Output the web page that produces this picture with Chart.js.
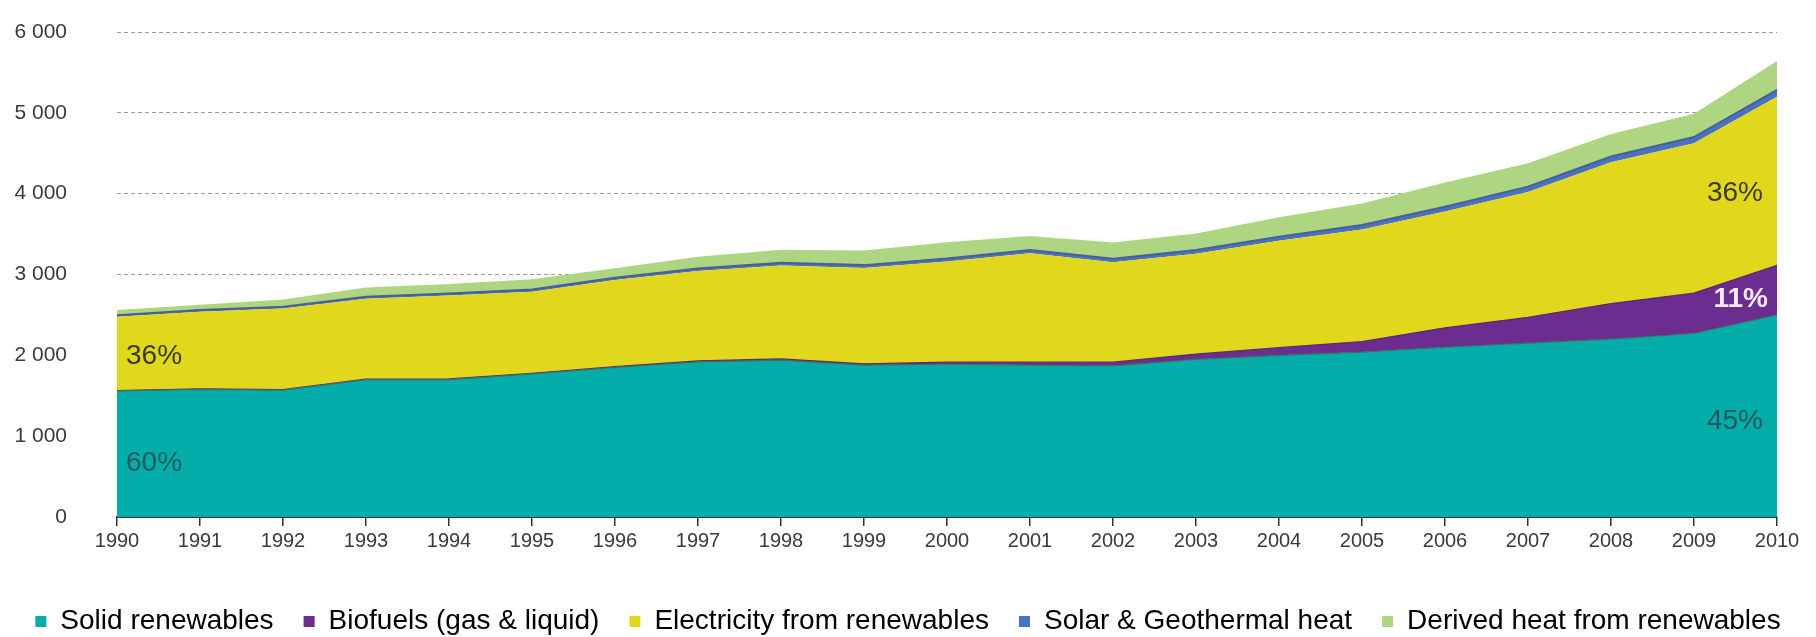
<!DOCTYPE html>
<html>
<head>
<meta charset="utf-8">
<script src="https://cdn.jsdelivr.net/npm/chart.js@4/dist/chart.umd.min.js"></script>
<style>
  html, body { margin: 0; padding: 0; background: #ffffff; }
  #wrap { width: 1816px; height: 637px; position: relative; }
</style>
</head>
<body>
<div id="wrap"><canvas id="c" width="1816" height="637"></canvas></div>
<script>
const years = ['1990','1991','1992','1993','1994','1995','1996','1997','1998','1999','2000','2001','2002','2003','2004','2005','2006','2007','2008','2009','2010'];
const yTickLabels = ['0','1 000','2 000','3 000','4 000','5 000','6 000'];

const solidRenewables = [1560,1580,1570,1700,1700,1770,1850,1920,1940,1880,1890,1880,1870,1950,2000,2040,2100,2150,2200,2270,2500];
const biofuels        = [5,5,5,5,8,8,10,12,15,15,25,35,45,65,95,130,240,320,440,500,615];
const electricity     = [912,955,1003,996,1033,1010,1071,1112,1157,1186,1247,1347,1238,1242,1323,1387,1439,1552,1749,1855,2085];
const solarGeo        = [20,20,22,24,25,27,29,31,33,35,37,40,42,45,50,55,60,65,70,75,85];
const derivedHeat     = [65,65,90,115,118,125,118,144,160,180,200,175,200,205,240,265,300,290,280,290,355];

const seriesNames = ['Solid renewables','Biofuels (gas & liquid)','Electricity from renewables','Solar & Geothermal heat','Derived heat from renewables'];

const shareLabels = [
  { text: '60%', index: 0,  value: 660,  align: 'left',  dx: 9,   color: '#1c5a5c', bold: false },
  { text: '36%', index: 0,  value: 1990, align: 'left',  dx: 9,   color: '#3b3a14', bold: false },
  { text: '36%', index: 20, value: 4010, align: 'right', dx: -14, color: '#3b3a14', bold: false },
  { text: '11%', index: 20, value: 2690, align: 'right', dx: -9,  color: '#f6e9f6', bold: true },
  { text: '45%', index: 20, value: 1190, align: 'right', dx: -14, color: '#1c5a5c', bold: false }
];

const FONT_MAIN = '"Liberation Sans", Arial, sans-serif';

const shareLabelPlugin = {
  id: 'shareLabels',
  afterDatasetsDraw(chart) {
    const ctx = chart.ctx;
    const xs = chart.scales.x, ys = chart.scales.y;
    ctx.save();
    ctx.textBaseline = 'middle';
    shareLabels.forEach(l => {
      ctx.font = (l.bold ? 'bold ' : '') + '28px ' + FONT_MAIN;
      ctx.fillStyle = l.color;
      ctx.textAlign = l.align;
      ctx.fillText(l.text, xs.getPixelForValue(l.index) + l.dx, ys.getPixelForValue(l.value));
    });
    ctx.restore();
  }
};

const colors = ['#04acaa', '#6b2d90', '#e1d81e', '#4a72c4', '#aed682'];
const borders = ['#3f6e62', '#5a2a6e', 'rgba(0,0,0,0)', '#4a5f92', 'rgba(0,0,0,0)'];
const borderWidths = [1.2, 1.2, 0, 2, 0];
const seriesData = [solidRenewables, biofuels, electricity, solarGeo, derivedHeat];

const datasets = seriesData.map((d, i) => ({
  label: seriesNames[i],
  data: d,
  backgroundColor: colors[i],
  borderColor: borders[i],
  borderWidth: borderWidths[i],
  fill: i === 0 ? 'origin' : '-1',
  pointRadius: 0,
  tension: 0
}));

new Chart(document.getElementById('c'), {
  type: 'line',
  data: { labels: years, datasets },
  plugins: [shareLabelPlugin],
  options: {
    responsive: false,
    animation: false,
    layout: { padding: { top: 32, right: 0, left: 0, bottom: -8.5 } },
    plugins: {
      tooltip: { enabled: false },
      legend: {
        position: 'bottom',
        labels: {
          font: { family: FONT_MAIN, size: 28 },
          color: '#3a3a3a',
          boxWidth: 11,
          boxHeight: 11,
          padding: 30,
          generateLabels(chart) {
            return chart.data.datasets.map((ds, i) => ({
              text: ds.label,
              fillStyle: colors[i],
              strokeStyle: colors[i],
              lineWidth: 0,
              hidden: false,
              datasetIndex: i
            }));
          }
        }
      }
    },
    scales: {
      x: {
        type: 'category',
        offset: false,
        grid: { display: true, drawOnChartArea: false, drawTicks: true, tickLength: 9, color: '#333333', lineWidth: 1.5 },
        border: { display: true, color: '#333333', width: 2 },
        ticks: { font: { family: FONT_MAIN, size: 20 }, color: '#3a3a3a', padding: 3, maxRotation: 0, autoSkip: false },
        afterFit(scale) {
          scale.height = 60.5;
          scale.paddingRight = 39;
        }
      },
      y: {
        stacked: true,
        min: 0,
        max: 6000,
        grid: { color: '#9a9a9a', lineWidth: 1, drawTicks: false },
        border: { display: false, dash: [4, 3] },
        ticks: {
          stepSize: 1000,
          padding: 50,
          font: { family: FONT_MAIN, size: 21 },
          color: '#3a3a3a',
          callback: (v) => yTickLabels[Math.round(v / 1000)]
        },
        afterFit(scale) {
          scale.width = 117;
          scale.paddingTop = 0;
          scale.paddingBottom = 0;
        }
      }
    }
  }
});
</script>
</body>
</html>
